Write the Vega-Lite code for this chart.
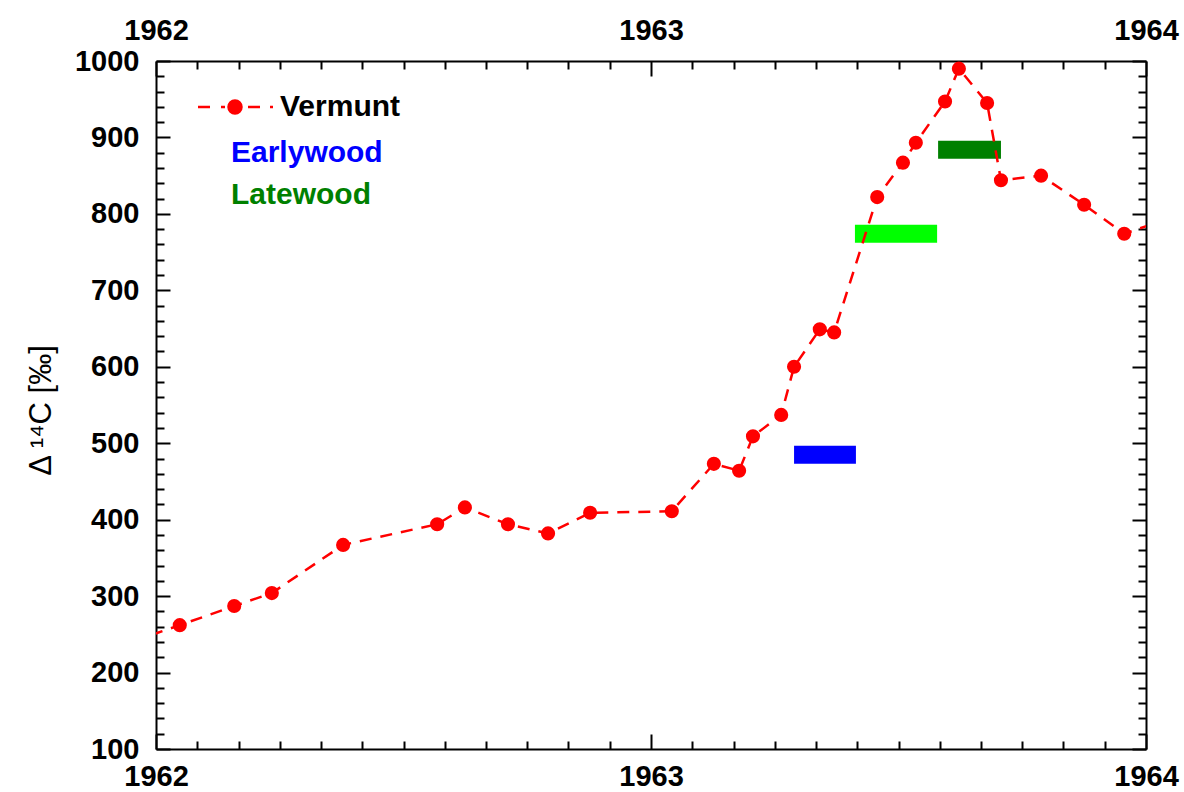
{
  "$schema": "https://vega.github.io/schema/vega-lite/v6.json",
  "width": 990,
  "height": 688,
  "autosize": {"type": "none"},
  "padding": {"left": 156, "top": 61, "right": 38, "bottom": 43},
  "background": "white",
  "config": {
    "view": {"stroke": null},
    "font": "Liberation Sans",
    "axis": {
      "domainColor": "#000000",
      "domainWidth": 2,
      "tickColor": "#000000",
      "tickWidth": 2,
      "labelFont": "Liberation Sans",
      "labelFontWeight": "bold",
      "labelFontSize": 29,
      "labelColor": "#000000",
      "grid": false,
      "labelOverlap": false,
      "labelFlush": false,
      "titleFont": "Liberation Sans"
    }
  },
  "datasets": {
    "vermunt": [
      {"year": 1961.95, "d14c": 240, "series": "Vermunt"},
      {"year": 1962.048, "d14c": 262, "series": "Vermunt"},
      {"year": 1962.158, "d14c": 287, "series": "Vermunt"},
      {"year": 1962.234, "d14c": 304, "series": "Vermunt"},
      {"year": 1962.378, "d14c": 367, "series": "Vermunt"},
      {"year": 1962.568, "d14c": 394, "series": "Vermunt"},
      {"year": 1962.624, "d14c": 416, "series": "Vermunt"},
      {"year": 1962.711, "d14c": 394, "series": "Vermunt"},
      {"year": 1962.792, "d14c": 382, "series": "Vermunt"},
      {"year": 1962.877, "d14c": 409, "series": "Vermunt"},
      {"year": 1963.042, "d14c": 411, "series": "Vermunt"},
      {"year": 1963.127, "d14c": 473, "series": "Vermunt"},
      {"year": 1963.178, "d14c": 464, "series": "Vermunt"},
      {"year": 1963.206, "d14c": 509, "series": "Vermunt"},
      {"year": 1963.263, "d14c": 537, "series": "Vermunt"},
      {"year": 1963.289, "d14c": 600, "series": "Vermunt"},
      {"year": 1963.341, "d14c": 649, "series": "Vermunt"},
      {"year": 1963.37, "d14c": 645, "series": "Vermunt"},
      {"year": 1963.457, "d14c": 822, "series": "Vermunt"},
      {"year": 1963.509, "d14c": 867, "series": "Vermunt"},
      {"year": 1963.535, "d14c": 893, "series": "Vermunt"},
      {"year": 1963.594, "d14c": 947, "series": "Vermunt"},
      {"year": 1963.622, "d14c": 990, "series": "Vermunt"},
      {"year": 1963.679, "d14c": 945, "series": "Vermunt"},
      {"year": 1963.707, "d14c": 844, "series": "Vermunt"},
      {"year": 1963.788, "d14c": 850, "series": "Vermunt"},
      {"year": 1963.875, "d14c": 812, "series": "Vermunt"},
      {"year": 1963.956, "d14c": 774, "series": "Vermunt"},
      {"year": 1964.05, "d14c": 795, "series": "Vermunt"}
    ],
    "wood": [
      {"sample": "Earlywood", "start": 1963.289, "end": 1963.414, "d14c": 485},
      {"sample": "Latewood A", "start": 1963.412, "end": 1963.578, "d14c": 774},
      {"sample": "Latewood B", "start": 1963.58, "end": 1963.707, "d14c": 884}
    ]
  },
  "resolve": {"axis": {"x": "independent", "y": "independent"}},
  "layer": [
    {
      "mark": {"type": "rule", "color": "#7373ff", "strokeWidth": 1.5},
      "encoding": {
        "x": {"datum": 1963, "type": "quantitative", "scale": {"domain": [1962, 1964], "nice": false, "zero": false}, "axis": null}
      }
    },
    {
      "data": {"name": "wood"},
      "mark": {"type": "rule", "strokeWidth": 18, "strokeCap": "butt"},
      "encoding": {
        "x": {"field": "start", "type": "quantitative", "scale": {"domain": [1962, 1964], "nice": false, "zero": false}, "axis": null},
        "x2": {"field": "end"},
        "y": {"field": "d14c", "type": "quantitative", "scale": {"domain": [100, 1000], "nice": false, "zero": false}, "axis": null},
        "stroke": {"field": "sample", "type": "nominal", "scale": {"domain": ["Earlywood", "Latewood A", "Latewood B"], "range": ["#0000ff", "#00ff00", "#008000"]}, "legend": null}
      }
    },
    {
      "data": {"name": "vermunt"},
      "mark": {"type": "line", "strokeDash": [12, 9], "strokeWidth": 2.5, "clip": true},
      "encoding": {
        "x": {
          "field": "year", "type": "quantitative",
          "scale": {"domain": [1962, 1964], "nice": false, "zero": false},
          "axis": {
            "orient": "bottom", "title": null,
            "values": [1962, 1962.0833, 1962.1667, 1962.25, 1962.3333, 1962.4167, 1962.5, 1962.5833, 1962.6667, 1962.75, 1962.8333, 1962.9167, 1963, 1963.0833, 1963.1667, 1963.25, 1963.3333, 1963.4167, 1963.5, 1963.5833, 1963.6667, 1963.75, 1963.8333, 1963.9167, 1964],
            "labelExpr": "abs(datum.value - round(datum.value)) < 0.001 ? format(datum.value, 'd') : ''",
            "tickSize": {"condition": {"test": "abs(datum.value - round(datum.value)) < 0.001", "value": -15}, "value": -8},
            "labelPadding": 28
          }
        },
        "y": {
          "field": "d14c", "type": "quantitative",
          "scale": {"domain": [100, 1000], "nice": false, "zero": false},
          "axis": {
            "orient": "left",
            "title": "Δ ¹⁴C [‰]",
            "titleFontSize": 31, "titleFontWeight": "normal", "titleColor": "#000000", "titlePadding": 17,
            "titleY": 349,
            "values": [100, 120, 140, 160, 180, 200, 220, 240, 260, 280, 300, 320, 340, 360, 380, 400, 420, 440, 460, 480, 500, 520, 540, 560, 580, 600, 620, 640, 660, 680, 700, 720, 740, 760, 780, 800, 820, 840, 860, 880, 900, 920, 940, 960, 980, 1000],
            "labelExpr": "datum.value % 100 === 0 ? format(datum.value, 'd') : ''",
            "tickSize": {"condition": {"test": "datum.value % 100 === 0", "value": -14}, "value": -8},
            "labelPadding": 31
          }
        },
        "color": {
          "field": "series", "type": "nominal",
          "scale": {"domain": ["Vermunt", "Earlywood", "Latewood"], "range": ["#ff0000", "#0000ff", "#008000"]},
          "legend": {
            "orient": "none",
            "legendX": 64,
            "legendY": 31,
            "title": null,
            "padding": 0,
            "rowPadding": 12,
            "labelFont": "Liberation Sans",
            "labelFontSize": 30,
            "labelFontWeight": "bold",
            "labelLimit": 0,
            "labelOffset": 30,
            "symbolType": "M-3.7,0H-2.5M-1.4,0H-1M1.3,0H2.5M3.5,0H3.8M-0.65,0A0.65,0.65,0,1,0,0.65,0A0.65,0.65,0,1,0,-0.65,0Z",
            "symbolSize": 400,
            "symbolStrokeWidth": 2.5,
            "symbolFillColor": "#ff0000",
            "symbolStrokeColor": "#ff0000",
            "encode": {
              "symbols": {
                "update": {
                  "opacity": {"signal": "datum.label === 'Vermunt' ? 1 : 0"},
                  "fill": {"value": "#ff0000"},
                  "stroke": {"value": "#ff0000"},
                  "strokeDash": {"value": []}
                }
              },
              "labels": {
                "update": {
                  "fill": {"signal": "datum.label === 'Earlywood' ? '#0000ff' : datum.label === 'Latewood' ? '#008000' : '#000000'"},
                  "dx": {"signal": "datum.label === 'Vermunt' ? 0 : -49"},
                  "dy": {"signal": "datum.label === 'Earlywood' ? 4 : datum.label === 'Latewood' ? -2 : 0"}
                }
              }
            }
          }
        }
      }
    },
    {
      "data": {"name": "vermunt"},
      "mark": {"type": "point", "filled": true, "size": 200, "opacity": 1, "clip": true},
      "encoding": {
        "x": {
          "field": "year", "type": "quantitative",
          "scale": {"domain": [1962, 1964], "nice": false, "zero": false},
          "axis": {
            "orient": "top", "title": null,
            "values": [1962, 1962.0833, 1962.1667, 1962.25, 1962.3333, 1962.4167, 1962.5, 1962.5833, 1962.6667, 1962.75, 1962.8333, 1962.9167, 1963, 1963.0833, 1963.1667, 1963.25, 1963.3333, 1963.4167, 1963.5, 1963.5833, 1963.6667, 1963.75, 1963.8333, 1963.9167, 1964],
            "labelExpr": "abs(datum.value - round(datum.value)) < 0.001 ? format(datum.value, 'd') : ''",
            "tickSize": {"condition": {"test": "abs(datum.value - round(datum.value)) < 0.001", "value": -15}, "value": -8},
            "labelPadding": 31
          }
        },
        "y": {
          "field": "d14c", "type": "quantitative",
          "scale": {"domain": [100, 1000], "nice": false, "zero": false},
          "axis": {
            "orient": "right", "title": null,
            "values": [100, 120, 140, 160, 180, 200, 220, 240, 260, 280, 300, 320, 340, 360, 380, 400, 420, 440, 460, 480, 500, 520, 540, 560, 580, 600, 620, 640, 660, 680, 700, 720, 740, 760, 780, 800, 820, 840, 860, 880, 900, 920, 940, 960, 980, 1000],
            "labels": false,
            "tickSize": {"condition": {"test": "datum.value % 100 === 0", "value": -14}, "value": -8}
          }
        },
        "color": {"field": "series", "type": "nominal", "scale": {"domain": ["Vermunt", "Earlywood", "Latewood"], "range": ["#ff0000", "#0000ff", "#008000"]}}
      }
    }
  ]
}
